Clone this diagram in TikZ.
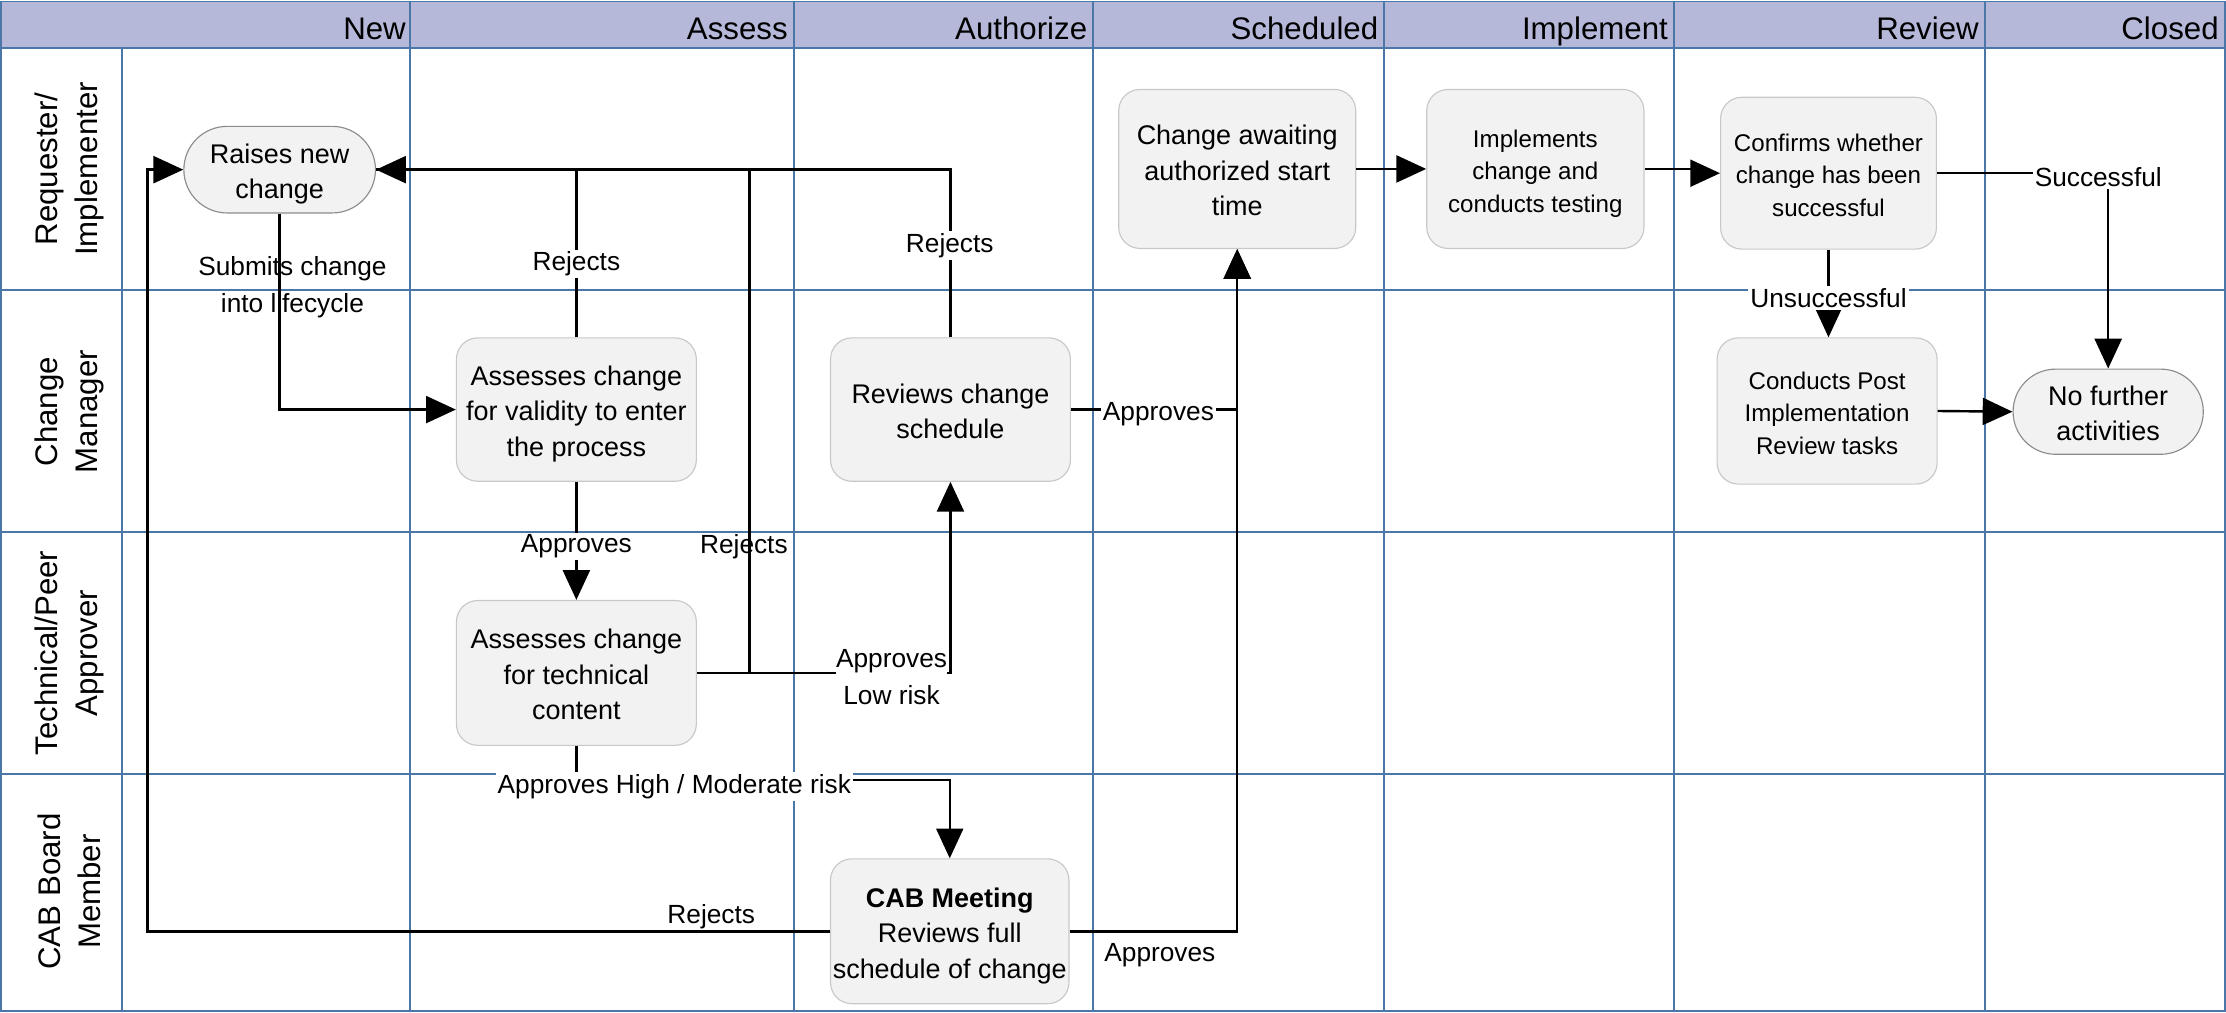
\documentclass[tikz,border=0pt]{standalone}
\usepackage{fontspec}
\setmainfont{Liberation Sans}
\usetikzlibrary{arrows.meta,shapes.misc}
\definecolor{hdrfill}{RGB}{181,184,217}
\definecolor{gridblue}{RGB}{74,118,168}
\definecolor{boxfill}{RGB}{242,242,242}
\definecolor{boxline}{RGB}{200,200,200}
\definecolor{termline}{RGB}{140,140,140}
\newcommand{\ntxt}[1]{\raisebox{-3pt}[\height][\depth]{\begin{tabular}{@{}c@{}}#1\end{tabular}}}
\tikzset{
  gridline/.style={draw=gridblue, line width=1.3pt},
  hdrtext/.style={anchor=base east, inner sep=0pt, font=\fontsize{22}{26}\selectfont},
  lanetext/.style={rotate=90, align=center, inner sep=0pt, font=\fontsize{22}{28}\selectfont},
  proc/.style={draw=boxline, fill=boxfill, line width=0.8pt, rounded corners=15pt, inner sep=0pt, font=\fontsize{19}{25}\selectfont},
  procsm/.style={proc, font=\fontsize{17}{23}\selectfont},
  term/.style={draw=termline, fill=boxfill, line width=0.8pt, rounded rectangle, inner sep=0pt, font=\fontsize{19}{25}\selectfont},
  wire/.style={line width=1.7pt},
  conn/.style={wire, -{Triangle[length=21pt,width=19pt]}},
  lbl/.style={fill=white, inner sep=1.5pt, align=center, font=\fontsize{18.5}{26}\selectfont},
  lblclear/.style={inner sep=1pt, align=center, font=\fontsize{18.5}{26}\selectfont}
}
\begin{document}
\begin{tikzpicture}[x=1pt,y=-1pt]
\useasboundingbox (0,0) rectangle (1568,713);
% header
\fill[hdrfill] (1,1) rectangle (1567,34);
% grid
\draw[gridline] (1,1) rectangle (1567,712);
\draw[gridline] (1,34) -- (1567,34);
\foreach \yy in {204,375,545} \draw[gridline] (1,\yy) -- (1567,\yy);
\draw[gridline] (86,34) -- (86,712);
\foreach \xx in {289,559,770,975,1179,1398} \draw[gridline] (\xx,1) -- (\xx,712);
% header texts
\node[hdrtext] (hNew) at (286,28) {New};
\node[hdrtext] (hAss) at (555,28) {Assess};
\node[hdrtext] (hAut) at (766,28) {Authorize};
\node[hdrtext] (hSch) at (971,28) {Scheduled};
\node[hdrtext] (hImp) at (1175,28) {Implement};
\node[hdrtext] (hRev) at (1394,28) {Review};
\node[hdrtext] (hClo) at (1563,28) {Closed};
% lane texts
\node[lanetext] (l1) at (49,119) {Requester/\\Implementer};
\node[lanetext] (l2) at (49,290) {Change\\Manager};
\node[lanetext] (l3) at (49,460) {Technical/Peer\\Approver};
\node[lanetext] (l4) at (49,628) {CAB Board\\Member};
% nodes
\node[term, minimum width=135pt, minimum height=61pt] (raise) at (197,119.5) {\ntxt{Raises new\\change}};
\node[proc, minimum width=169pt, minimum height=101pt] (val) at (406,288.5) {\ntxt{Assesses change\\for validity to enter\\the process}};
\node[proc, minimum width=169pt, minimum height=102pt] (tech) at (406,474) {\ntxt{Assesses change\\for technical\\content}};
\node[proc, minimum width=169pt, minimum height=101pt] (rev) at (669.5,288.5) {\ntxt{Reviews change\\schedule}};
\node[proc, minimum width=168pt, minimum height=102pt] (cab) at (669,656) {\ntxt{\textbf{CAB Meeting}\\Reviews full\\schedule of change}};
\node[proc, minimum width=167pt, minimum height=112pt] (await) at (871.5,119) {\ntxt{Change awaiting\\authorized start\\time}};
\node[procsm, minimum width=153pt, minimum height=112pt] (impl) at (1081.5,119) {\ntxt{Implements\\change and\\conducts testing}};
\node[procsm, minimum width=152pt, minimum height=107pt] (conf) at (1288,122) {\ntxt{Confirms whether\\change has been\\successful}};
\node[procsm, minimum width=155pt, minimum height=103pt] (pir) at (1287,289.5) {\ntxt{Conducts Post\\Implementation\\Review tasks}};
\node[term, minimum width=134pt, minimum height=60pt] (nofur) at (1485,290) {\ntxt{No further\\activities}};
% helper coordinates
\coordinate (rejx) at (528,0);
\coordinate (lx) at (104,0);
\coordinate (ix) at (1195,0);
% connectors
\draw[conn] (raise.south) |- (val.west);
\draw[conn] (val.north) |- (raise.east);
\draw[conn] (val.south) -- (tech.north);
\draw[wire] (tech.east -| rejx) -- (rejx |- raise.east);
\draw[conn] (tech.east) -| (rev.south);
\draw[wire] (rev.north) |- (raise.east);
\draw[conn] (rev.east) -| (await.south);
\draw[conn] (cab.east) -| (await.south);
\draw[conn] (tech.south) -- ++(0,24) -| (cab.north);
\draw[conn] (cab.west) -- (cab.west -| lx) -- (lx |- raise.west) -- (raise.west);
\draw[conn] (await.east) -- (impl.west);
\draw[conn] (impl.east) -- (impl.east -| ix) |- (conf.west);
\draw[conn] (conf.east) -| (nofur.north);
\draw[conn] (conf.south) -- (conf.south |- pir.north);
\draw[conn] (pir.east) -- (nofur.west);
% labels
\node[lblclear] (lsub) at (206,202) {Submits change\\into lifecycle};
\node[lbl] (lrej1) at (406,186) {Rejects};
\node[lbl] (lrej2) at (669,173) {Rejects};
\node[lblclear] (lrej3) at (524,385) {Rejects};
\node[lbl] (lapp1) at (406,385) {Approves};
\node[lbl, inner xsep=0pt] (lapp2) at (628,477) {Approves\\Low risk};
\node[lbl] (lapp3) at (816,292) {Approves};
\node[lbl] (lapp4) at (475,554) {Approves High / Moderate risk};
\node[lblclear] (lrej4) at (501,646) {Rejects};
\node[lblclear] (lapp5) at (817,673) {Approves};
\node[lbl] (lsucc) at (1478,125) {Successful};
\node[lbl] (lunsc) at (1288,210) {Unsuccessful};
\end{tikzpicture}
\end{document}
